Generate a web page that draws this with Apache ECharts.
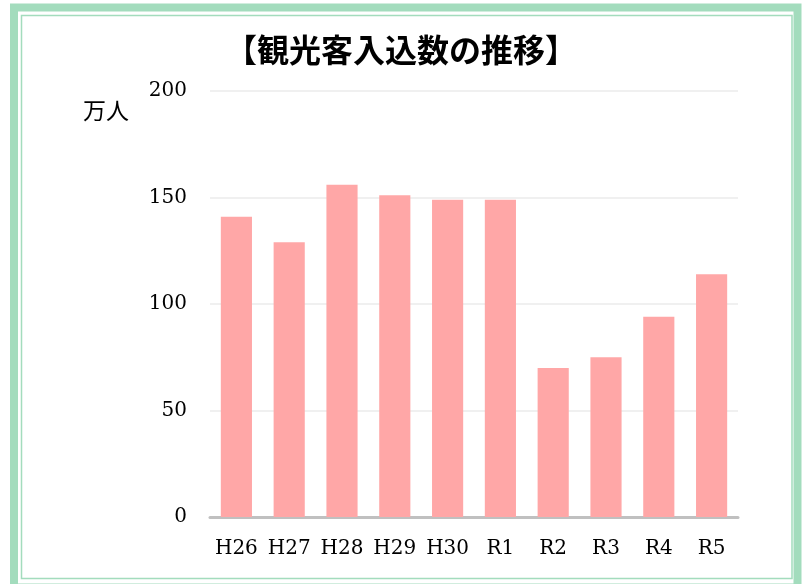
<!DOCTYPE html>
<html>
<head>
<meta charset="utf-8">
<script src="https://cdn.jsdelivr.net/npm/echarts@6/dist/echarts.min.js"></script>
<style>
  html, body { margin: 0; padding: 0; background: #fff; }
  #chart { width: 803px; height: 584px; }
</style>
</head>
<body>
<div id="chart"></div>
<script>
// 年度ラベル
const years = ["H26", "H27", "H28", "H29", "H30", "R1", "R2", "R3", "R4", "R5"];
// 観光客入込数（万人）
const visitors = [141, 129, 156, 151, 149, 149, 70, 75, 94, 114];
// 縦軸の目盛
const yTicks = [0, 50, 100, 150, 200];

const frameColor = "#a3dcbd";
const serif = "'DejaVu Serif', 'Noto Sans CJK JP', serif";

const chart = echarts.init(document.getElementById("chart"));

chart.setOption({
  backgroundColor: "#ffffff",
  animation: false,
  title: {
    text: "【観光客入込数の推移】",
    left: 396,
    top: 29,
    textAlign: "center",
    textStyle: {
      fontFamily: "'Noto Sans CJK JP', sans-serif",
      fontWeight: "bold",
      fontSize: 32,
      color: "#000000",
    },
  },
  graphic: [
    // 外枠（太線）
    {
      type: "rect",
      shape: { x: 14, y: 7.5, width: 783.5, height: 580 },
      style: { fill: "none", stroke: frameColor, lineWidth: 8 },
      silent: true,
    },
    // 内枠（細線）
    {
      type: "rect",
      shape: { x: 21.5, y: 15.5, width: 770.5, height: 563 },
      style: { fill: "none", stroke: frameColor, lineWidth: 1.5 },
      silent: true,
    },
    {
      type: "text",
      left: 83,
      top: 99,
      style: {
        text: "万人",
        fontFamily: "'Noto Sans CJK JP', sans-serif",
        fontSize: 23,
        fill: "#000000",
      },
    },
  ],
  grid: {
    left: 210,
    right: 65,
    top: 91,
    bottom: 67,
    containLabel: false,
  },
  xAxis: {
    type: "category",
    data: years,
    axisTick: { show: false },
    axisLine: {
      lineStyle: { color: "#c0c0c0", width: 3 },
    },
    axisLabel: {
      interval: 0,
      hideOverlap: false,
      margin: 22,
      fontFamily: serif,
      fontSize: 20,
      color: "#000000",
    },
  },
  yAxis: {
    type: "value",
    min: yTicks[0],
    max: yTicks[yTicks.length - 1],
    interval: 50,
    axisLine: { show: false },
    axisTick: { show: false },
    axisLabel: {
      margin: 23,
      padding: [6, 0, 0, 0],
      fontFamily: serif,
      fontSize: 20,
      color: "#000000",
    },
    splitLine: {
      lineStyle: { color: "#f0f0f0", width: 2 },
    },
  },
  series: [
    {
      type: "bar",
      data: visitors,
      barWidth: "59%",
      itemStyle: { color: "#ffa7a7" },
    },
  ],
});
</script>
</body>
</html>
